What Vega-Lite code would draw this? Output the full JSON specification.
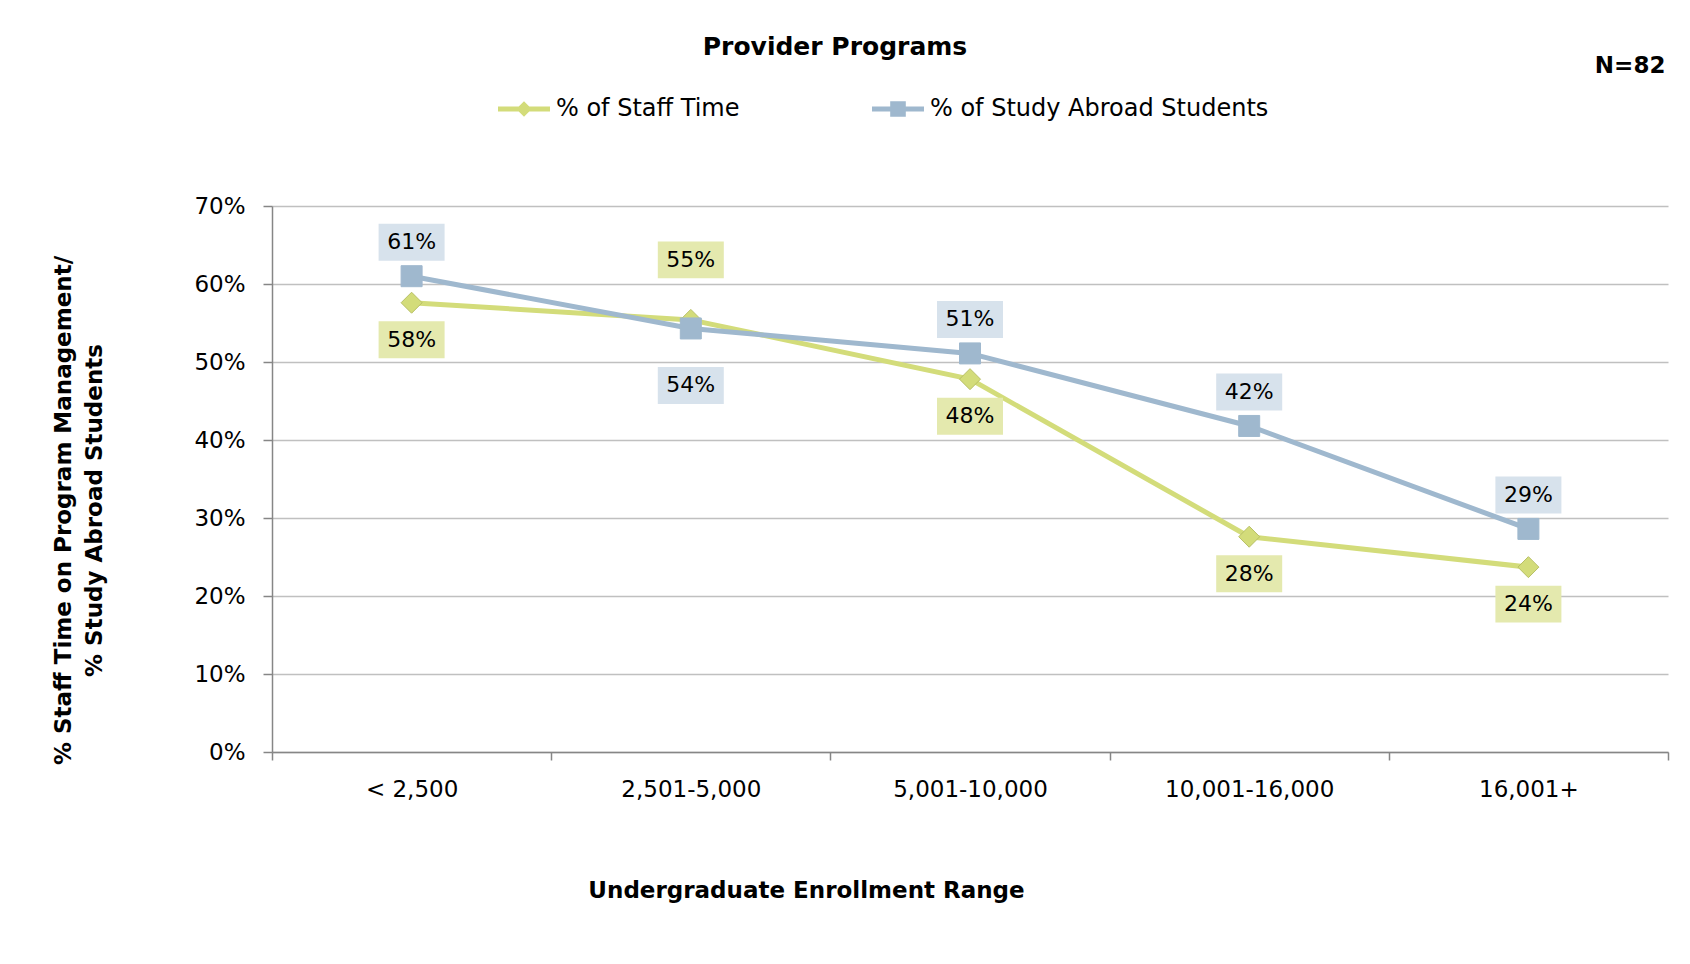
{
  "$schema": "https://vega.github.io/schema/vega-lite/v6.json",
  "width": 1396,
  "height": 546,
  "autosize": {"type": "none"},
  "padding": {"left": 272, "top": 206, "right": 22, "bottom": 212},
  "background": "#ffffff",
  "title": {
    "text": "Provider Programs",
    "anchor": "middle",
    "frame": "group",
    "dx": -135,
    "dy": 5,
    "font": "DejaVu Sans",
    "fontSize": 25,
    "fontWeight": "bold",
    "color": "#000000",
    "offset": 0
  },
  "config": {
    "view": {"stroke": null},
    "font": "DejaVu Sans"
  },
  "data": {
    "values": [
      {"range": "< 2,500", "series": "% of Staff Time", "value": 0.576},
      {"range": "2,501-5,000", "series": "% of Staff Time", "value": 0.554},
      {"range": "5,001-10,000", "series": "% of Staff Time", "value": 0.478},
      {"range": "10,001-16,000", "series": "% of Staff Time", "value": 0.276},
      {"range": "16,001+", "series": "% of Staff Time", "value": 0.237},
      {"range": "< 2,500", "series": "% of Study Abroad Students", "value": 0.610},
      {"range": "2,501-5,000", "series": "% of Study Abroad Students", "value": 0.543},
      {"range": "5,001-10,000", "series": "% of Study Abroad Students", "value": 0.511},
      {"range": "10,001-16,000", "series": "% of Study Abroad Students", "value": 0.418},
      {"range": "16,001+", "series": "% of Study Abroad Students", "value": 0.286}
    ]
  },
  "encoding": {
    "x": {
      "field": "range",
      "type": "nominal",
      "sort": ["< 2,500", "2,501-5,000", "5,001-10,000", "10,001-16,000", "16,001+"],
      "scale": {"paddingInner": 0, "paddingOuter": 0},
      "axis": {
        "title": "Undergraduate Enrollment Range",
        "titleFont": "DejaVu Sans",
        "titleFontSize": 23,
        "titleFontWeight": "bold",
        "titleColor": "#000000",
        "titleX": 534,
        "titleY": 138,
        "titleAlign": "center",
        "titleBaseline": "middle",
        "labelAngle": 0,
        "labelFont": "DejaVu Sans",
        "labelFontSize": 23,
        "labelColor": "#000000",
        "labelPadding": 18,
        "tickBand": "extent",
        "tickSize": 8,
        "tickColor": "#868686",
        "tickWidth": 1.5,
        "domainColor": "#868686",
        "domainWidth": 1.5,
        "grid": false
      }
    },
    "y": {
      "field": "value",
      "type": "quantitative",
      "scale": {"domain": [0, 0.7], "nice": false, "zero": true},
      "axis": {
        "title": ["% Staff Time on Program Management/", "% Study Abroad Students"],
        "titleFont": "DejaVu Sans",
        "titleFontSize": 23,
        "titleFontWeight": "bold",
        "titleColor": "#000000",
        "titleLineHeight": 31,
        "titleAngle": -90,
        "titleX": -209,
        "titleY": 304,
        "titleAlign": "center",
        "titleBaseline": "middle",
        "values": [0, 0.1, 0.2, 0.3, 0.4, 0.5, 0.6, 0.7],
        "format": ".0%",
        "labelFont": "DejaVu Sans",
        "labelFontSize": 23,
        "labelColor": "#000000",
        "labelPadding": 18,
        "tickSize": 9,
        "tickColor": "#868686",
        "tickWidth": 1.5,
        "domainColor": "#868686",
        "domainWidth": 1.5,
        "grid": true,
        "gridColor": "#c0c0c0",
        "gridWidth": 1.5
      }
    }
  },
  "layer": [
    {
      "mark": {"type": "line", "strokeWidth": 5},
      "encoding": {
        "color": {
          "field": "series",
          "type": "nominal",
          "scale": {
            "domain": ["% of Staff Time", "% of Study Abroad Students"],
            "range": ["#d3dc7a", "#9fb8ce"]
          },
          "legend": {
            "orient": "none",
            "legendX": 226,
            "legendY": -123,
            "direction": "horizontal",
            "title": null,
            "symbolSize": 2704,
            "labelFont": "DejaVu Sans",
            "labelFontSize": 24,
            "labelColor": "#000000",
            "labelOffset": 6,
            "columnPadding": 132,
            "labelLimit": 600,
            "encode": {
              "symbols": {
                "update": {
                  "shape": {"signal": "datum.value == '% of Staff Time' ? 'M-1,-0.1H1V0.1H-1Z M0,-0.3L0.3,0L0,0.3L-0.3,0Z' : 'M-1,-0.1H1V0.1H-1Z M-0.3,-0.3H0.3V0.3H-0.3Z'"},
                  "fill": {"signal": "datum.value == '% of Staff Time' ? '#d3dc7a' : '#9fb8ce'"},
                  "fillOpacity": {"value": 1},
                  "opacity": {"value": 1},
                  "strokeWidth": {"value": 0}
                }
              }
            }
          }
        }
      }
    },
    {
      "mark": {
        "type": "point",
        "filled": true,
        "opacity": 1,
        "size": 441,
        "shape": {"expr": "datum.series == '% of Staff Time' ? 'diamond' : 'square'"},
        "stroke": {"expr": "datum.series == '% of Staff Time' ? '#b8c066' : '#9fb8ce'"},
        "strokeWidth": 1
      },
      "encoding": {
        "color": {"field": "series", "type": "nominal"}
      }
    },
    {
      "mark": {
        "type": "point",
        "filled": true,
        "opacity": 1,
        "size": 4356,
        "shape": "M-1,-0.56H1V0.56H-1Z",
        "fill": {"expr": "datum.series == '% of Staff Time' ? '#e4e9ae' : '#d7e2ec'"},
        "yOffset": {"expr": "datum.series == '% of Staff Time' ? (datum.range == '2,501-5,000' ? -60 : 37) : (datum.range == '2,501-5,000' ? 57 : -34)"}
      },
      "encoding": {}
    },
    {
      "mark": {
        "type": "text",
        "font": "DejaVu Sans",
        "fontSize": 22,
        "color": "#000000",
        "align": "center",
        "baseline": "middle",
        "yOffset": {"expr": "datum.series == '% of Staff Time' ? (datum.range == '2,501-5,000' ? -60 : 37) : (datum.range == '2,501-5,000' ? 57 : -34)"}
      },
      "encoding": {
        "text": {"field": "value", "type": "quantitative", "format": ".0%"}
      }
    },
    {
      "data": {"values": [{"note": "N=82", "range": "16,001+", "value": 0.88}]},
      "mark": {
        "type": "text",
        "font": "DejaVu Sans",
        "fontSize": 23,
        "fontWeight": "bold",
        "fill": "#000000",
        "align": "right",
        "baseline": "middle",
        "xOffset": 137
      },
      "encoding": {
        "text": {"field": "note", "type": "nominal"}
      }
    }
  ]
}
